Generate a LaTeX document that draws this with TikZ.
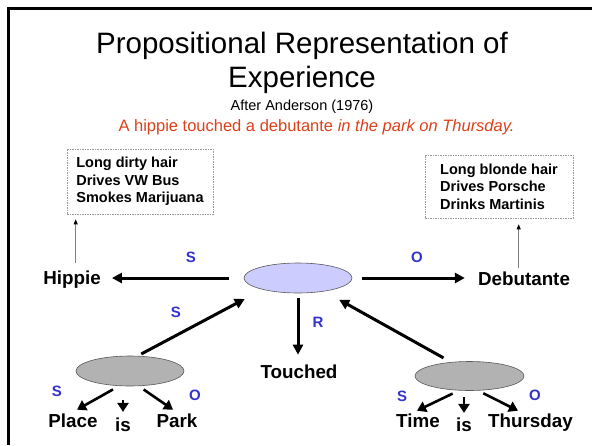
\documentclass[tikz,border=0pt]{standalone}
\usepackage{fontspec}
\setmainfont{Liberation Sans}
\usetikzlibrary{arrows.meta,shapes.geometric}
\definecolor{lblue}{RGB}{51,51,204}
\definecolor{hred}{RGB}{221,64,26}
\definecolor{lav}{RGB}{204,204,255}
\definecolor{egray}{RGB}{178,178,178}
\begin{document}
\begin{tikzpicture}[x=1pt,y=-1pt,
  lbl/.style={font=\fontsize{18.8}{22}\selectfont\bfseries, inner sep=0pt, anchor=base},
  rel/.style={font=\fontsize{15}{18}\selectfont\bfseries, text=lblue, inner sep=0pt},
  big/.style={line width=3pt, -{Triangle[length=10pt,width=10pt]}},
  small/.style={line width=2.6pt, -{Triangle[length=9pt,width=11pt]}},
  thinarr/.style={draw=gray, line width=0.9pt, -{Triangle[length=5pt,width=4pt,color=black]}},
  infobox/.style={draw=gray!80, dash pattern=on 1.5pt off 1pt, line width=0.6pt, align=left,
    font=\fontsize{14.5}{17.5}\selectfont\bfseries, inner sep=0pt},
  prop/.style={ellipse, draw=gray!70!black, line width=0.6pt, minimum width=108pt,
    minimum height=30pt, inner sep=0pt}]
\useasboundingbox (0,0) rectangle (592,445);
% frame
\draw[line width=3pt] (8.5,445) -- (8.5,8.5) -- (592,8.5);
% title
\node[font=\fontsize{29.5}{34}\selectfont, anchor=base, inner sep=0pt] (title1) at (302,53.3) {Propositional Representation of};
\node[font=\fontsize{29.5}{34}\selectfont, anchor=base, inner sep=0pt] (title2) at (302,87.3) {Experience};
\node[font=\fontsize{14.5}{17}\selectfont, anchor=base, inner sep=0pt] (after) at (302,110) {After Anderson (1976)};
\node[font=\fontsize{16.5}{19}\selectfont, text=hred, anchor=base, inner sep=0pt] (sent) at (316.5,131.7) {A hippie touched a debutante \textit{in the park on Thursday.}};
% info boxes
\node[infobox, minimum width=146pt, minimum height=65pt] (hbox) at (140,181.5) {Long dirty hair\\Drives VW Bus\\Smokes Marijuana};
\node[infobox, minimum width=148pt, minimum height=63pt] (dbox) at (499,186.5) {Long blonde hair\\Drives Porsche\\Drinks Martinis};
% labels
\node[lbl] (hippie) at (72,284.5) {Hippie};
\node[lbl] (deb) at (524,285) {Debutante};
\node[lbl] (touched) at (299,378) {Touched};
\node[lbl] (place) at (73,427.5) {Place};
\node[lbl] (lis) at (123,431.7) {is};
\node[lbl] (park) at (177,427.5) {Park};
\node[lbl] (time) at (418,427.5) {Time};
\node[lbl] (ris) at (464,431.7) {is};
\node[lbl] (thu) at (530.5,427.5) {Thursday};
% propositions
\node[prop, fill=lav] (c) at (298,278) {};
\node[prop, fill=egray] (pl) at (130,371) {};
\node[prop, fill=egray, minimum width=109pt, minimum height=29pt] (tm) at (469.5,376) {};
% thin arrows to boxes
\coordinate (htip) at ([xshift=9pt,yshift=-5pt]hbox.south west);
\coordinate (dtip) at ([xshift=94pt,yshift=-6pt]dbox.south west);
\draw[thinarr, shorten <=8pt] (hippie.north -| htip) -- (htip);
\draw[thinarr, shorten <=3.5pt] (deb.north -| dtip) -- (dtip);
% main arrows
\draw[big, shorten <=15pt, shorten >=11pt] (c.west) -- (hippie.east |- c.west);
\draw[big, shorten <=10pt, shorten >=13pt] (c.east) -- (deb.west |- c.east);
\draw[big, shorten <=5pt, shorten >=9.5pt] (c.south) -- (touched.north -| c.south);
\draw[big, shorten <=4pt, shorten >=20pt] (pl.63) -- (c.198);
\draw[big, shorten <=8.6pt, shorten >=17pt] (tm.143) -- (c.333);
% sub arrows
\draw[small, shorten <=7pt] (pl.234) -- ([shift={(4pt,4pt)}]place.north);
\draw[small, shorten <=14pt, shorten >=6pt] (lis.north |- pl.south) -- (lis.north);
\draw[small, shorten <=6pt] (pl.300) -- ([shift={(-4pt,4pt)}]park.north);
\draw[small, shorten <=7pt] (tm.234) -- ([shift={(-1pt,3pt)}]time.north);
\draw[small, shorten <=6pt, shorten >=5pt] (ris.north |- tm.south) -- (ris.north);
\draw[small, shorten <=6pt] (tm.300) -- ([shift={(-12.5pt,3pt)}]thu.north);
% relation labels
\node[rel] (s1) at (191,257) {S};
\node[rel] (o1) at (417,257) {O};
\node[rel] (s2) at (176,312) {S};
\node[rel] (r1) at (318,322) {R};
\node[rel] (s3) at (57,391) {S};
\node[rel] (o3) at (195,395) {O};
\node[rel] (s4) at (402,396) {S};
\node[rel] (o4) at (535,395) {O};
\end{tikzpicture}
\end{document}
